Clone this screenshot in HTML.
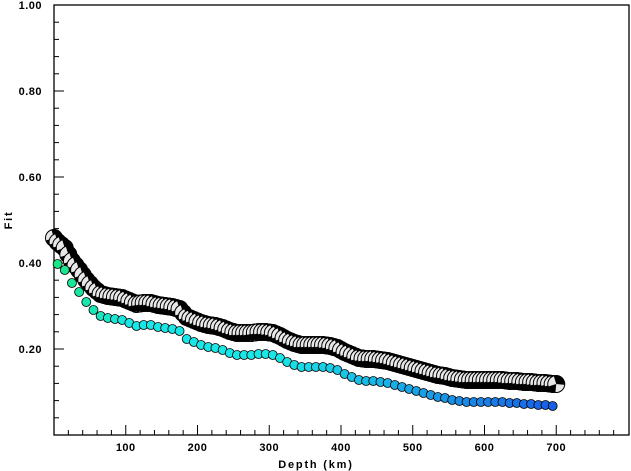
<!DOCTYPE html>
<html><head><meta charset="utf-8"><style>
body{margin:0;background:#fff}
svg{display:block}
text{font-family:"Liberation Sans",sans-serif;font-weight:bold;font-size:11px;fill:#000}
</style></head><body>
<svg id="s" width="631" height="471" xmlns="http://www.w3.org/2000/svg"></svg>
<script>
const s=document.getElementById('s');const NS='http://www.w3.org/2000/svg';
function el(t,a,txt){const e=document.createElementNS(NS,t);for(const k in a)e.setAttribute(k,a[k]);if(txt!==undefined)e.textContent=txt;s.appendChild(e);return e;}
const X=d=>54+d*0.7175, Y=f=>435-f*430;
el('rect',{x:54,y:5,width:575,height:430,fill:'none',stroke:'#000','stroke-width':1.3});
for(let d=20;d<800;d+=20){const maj=d%100==0;el('line',{x1:X(d),x2:X(d),y1:435,y2:435-(maj?10:5),stroke:'#000'});}
for(let d=100;d<=700;d+=100)el('text',{x:X(d),y:451,'text-anchor':'middle','letter-spacing':'0.5'},String(d));
for(let i=1;i<25;i++){const f=i*0.04;const maj=Math.abs(f*5-Math.round(f*5))<1e-6;el('line',{x1:54,x2:54+(maj?10:5),y1:Y(f),y2:Y(f),stroke:'#000'});}
for(let i=1;i<=5;i++){const f=i*0.2;el('text',{x:42,y:Y(f)+4,'text-anchor':'end','letter-spacing':'0.5'},f.toFixed(2));}
el('text',{x:316,y:468,'text-anchor':'middle','letter-spacing':'1.8','font-size':'12'},'Depth (km)');
el('text',{x:0,y:0,transform:'translate(12,220) rotate(-90)','text-anchor':'middle','letter-spacing':'1.8','font-size':'12'},'Fit');
const P=[[5,264],[15,270],[25,283],[35,292],[45,302],[55,310],[65,316],[75,318],[85,319],[95,320],[105,323],[115,326],[125,325],[135,325],[145,327],[155,328],[165,329],[175,331],[185,339],[195,342],[205,345],[215,347],[225,348],[235,350],[245,353],[255,355],[265,355],[275,355],[285,354],[295,354],[305,355],[315,358],[325,362],[335,365],[345,367],[355,367],[365,367],[375,367],[385,368],[395,370],[405,374],[415,377],[425,380],[435,381],[445,381],[455,382],[465,383],[475,385],[485,387],[495,389],[505,391],[515,393],[525,395],[535,397],[545,398],[555,400],[565,401],[575,402],[585,402],[595,402],[605,402],[615,402],[625,402],[635,403],[645,403],[655,404],[665,404],[675,405],[685,405],[695,406]];
function yAt(d){if(d<=P[0][0])return P[0][1]-(P[0][0]-d)*0.8;for(let i=1;i<P.length;i++)if(d<=P[i][0]){const a=P[i-1],b=P[i];return a[1]+(b[1]-a[1])*(d-a[0])/(b[0]-a[0]);}return P[P.length-1][1];}
for(let d=0;d<=700;d+=5){const x=X(d),y=yAt(d)-22,r=8.5;
 el('circle',{cx:x,cy:y,r:r,fill:'#e8e8e8',stroke:'#000','stroke-width':1});
 el('path',{d:`M${x} ${y} L${x-r*0.3} ${y-r*0.95} A${r} ${r} 0 0 1 ${x+r} ${y+r*0.1} Z M${x} ${y} L${x-r*0.95} ${y+r*0.3} A${r} ${r} 0 0 0 ${x-r*0.1} ${y+r} Z`,fill:'#000'});}
function col(d){const t=d/700;let h;if(t<0.15)h=150+(t/0.15)*30;else if(t<0.45)h=180;else h=180+(t-0.45)/0.55*40;return `hsl(${h},80%,50%)`;}
for(let d=5;d<=700;d+=10){el('circle',{cx:X(d),cy:yAt(d),r:4.5,fill:col(d),stroke:'#000','stroke-width':0.8});}
</script>
</body></html>
